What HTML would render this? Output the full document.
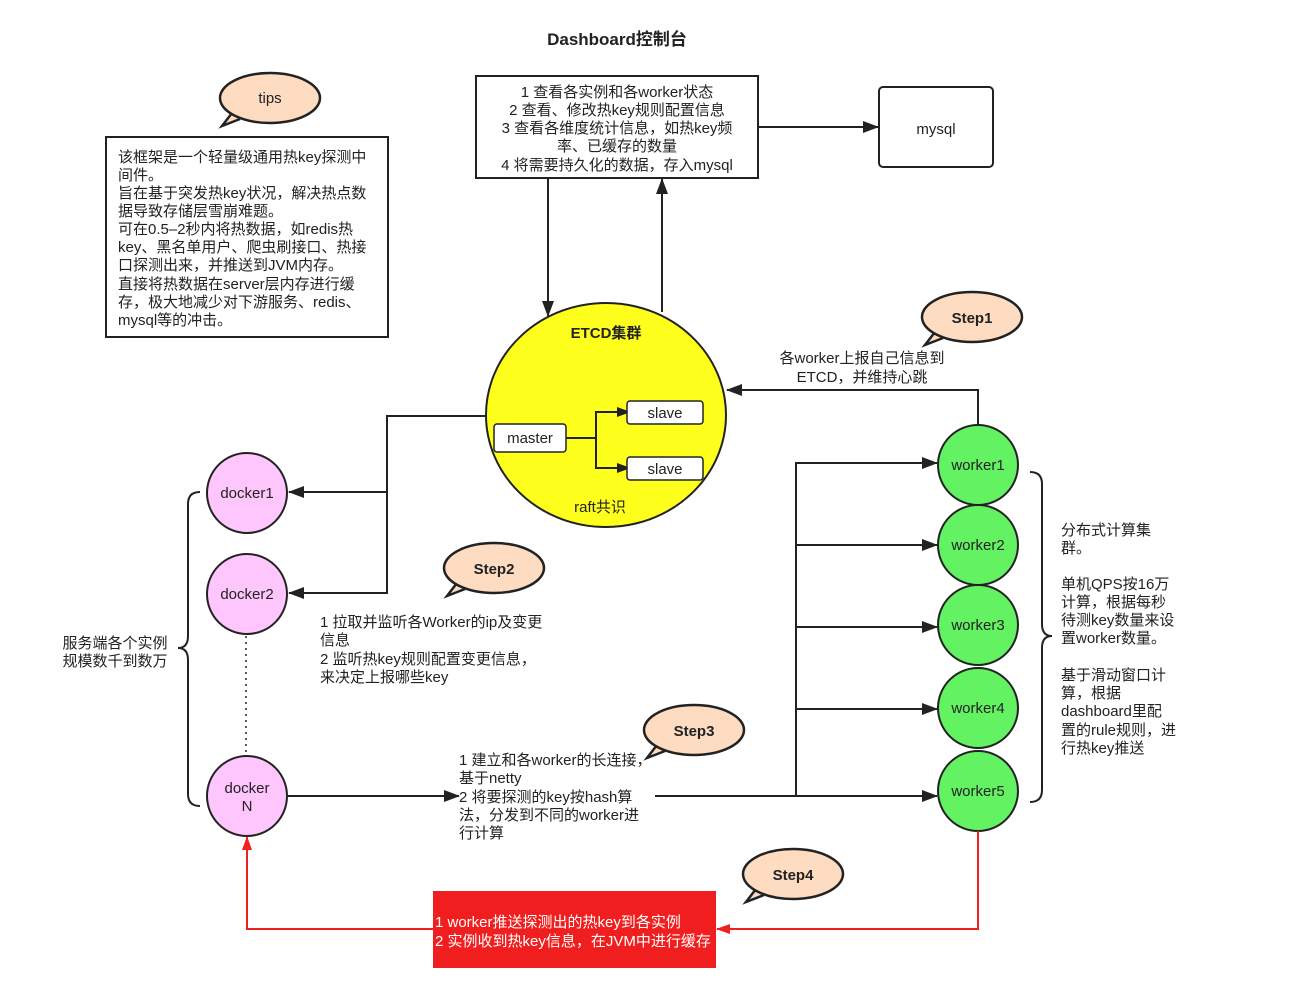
<!DOCTYPE html>
<html><head><meta charset="utf-8"><style>
body{margin:0;background:#fff}
svg{display:block;font-family:"Liberation Sans","Noto Sans CJK SC",sans-serif}
</style></head><body>
<svg width="1295" height="999" viewBox="0 0 1295 999" xmlns="http://www.w3.org/2000/svg">
<defs>
<marker id="a" markerWidth="10" markerHeight="10" refX="9" refY="5" orient="auto" markerUnits="userSpaceOnUse"><path d="M0,0 L14,5 L0,10 z" fill="#222"/></marker>
<marker id="r" markerWidth="14" markerHeight="10" refX="13" refY="5" orient="auto" markerUnits="userSpaceOnUse"><path d="M0,0 L14,5 L0,10 z" fill="#f02020"/></marker>
<marker id="b" markerWidth="16" markerHeight="12" refX="15" refY="6" orient="auto" markerUnits="userSpaceOnUse"><path d="M0,0 L16,6 L0,12 z" fill="#222"/></marker>
</defs>
<g font-size="15" fill="#222">
<text x="617" y="45" text-anchor="middle" font-size="17" font-weight="bold">Dashboard控制台</text>

<g stroke="#222" stroke-width="2.5" fill="#fddcc2">
<path d="M232,113 L222,126 L240,119"/><ellipse cx="270" cy="98" rx="50" ry="25"/>
<path d="M935,332 L925,345 L943,338"/><ellipse cx="972" cy="317" rx="50" ry="25"/>
<path d="M457,583 L447,596 L465,589"/><ellipse cx="494" cy="568" rx="50" ry="25"/>
<path d="M657,745 L647,758 L665,751"/><ellipse cx="694" cy="730" rx="50" ry="25"/>
<path d="M756,889 L746,902 L764,895"/><ellipse cx="793" cy="874" rx="50" ry="25"/>
</g>
<text x="270" y="103" text-anchor="middle">tips</text>
<text x="972" y="323" text-anchor="middle" font-weight="bold">Step1</text>
<text x="494" y="574" text-anchor="middle" font-weight="bold">Step2</text>
<text x="694" y="736" text-anchor="middle" font-weight="bold">Step3</text>
<text x="793" y="880" text-anchor="middle" font-weight="bold">Step4</text>

<rect x="106" y="137" width="282" height="200" fill="#fff" stroke="#222" stroke-width="2"/>
<g>
<text x="118" y="162">该框架是一个轻量级通用热key探测中</text>
<text x="118" y="180">间件。</text>
<text x="118" y="198">旨在基于突发热key状况，解决热点数</text>
<text x="118" y="216">据导致存储层雪崩难题。</text>
<text x="118" y="234">可在0.5–2秒内将热数据，如redis热</text>
<text x="118" y="252">key、黑名单用户、爬虫刷接口、热接</text>
<text x="118" y="270">口探测出来，并推送到JVM内存。</text>
<text x="118" y="289">直接将热数据在server层内存进行缓</text>
<text x="118" y="307">存，极大地减少对下游服务、redis、</text>
<text x="118" y="325">mysql等的冲击。</text>
</g>

<rect x="476" y="76" width="282" height="102" fill="#fff" stroke="#222" stroke-width="2"/>
<g text-anchor="middle">
<text x="617" y="97">1 查看各实例和各worker状态</text>
<text x="617" y="115">2 查看、修改热key规则配置信息</text>
<text x="617" y="133">3 查看各维度统计信息，如热key频</text>
<text x="617" y="151">率、已缓存的数量</text>
<text x="617" y="170">4 将需要持久化的数据，存入mysql</text>
</g>
<rect x="879" y="87" width="114" height="80" rx="4" fill="#fff" stroke="#222" stroke-width="2"/>
<text x="936" y="134" text-anchor="middle">mysql</text>

<g stroke="#222" stroke-width="2" fill="none">
<line x1="758" y1="127" x2="878" y2="127" marker-end="url(#b)"/>
<line x1="548" y1="178" x2="548" y2="316" marker-end="url(#b)"/>
<line x1="662" y1="312" x2="662" y2="179" marker-end="url(#b)"/>
</g>

<ellipse cx="606" cy="415" rx="120" ry="112" fill="#ffff1e" stroke="#222" stroke-width="2"/>
<text x="606" y="338" text-anchor="middle" font-weight="bold">ETCD集群</text>
<text x="600" y="512" text-anchor="middle">raft共识</text>
<rect x="494" y="424" width="72" height="28" rx="3" fill="#fff" stroke="#222" stroke-width="1.5"/>
<text x="530" y="443" text-anchor="middle">master</text>
<rect x="627" y="401" width="76" height="23" rx="3" fill="#fff" stroke="#222" stroke-width="1.5"/>
<text x="665" y="418" text-anchor="middle">slave</text>
<rect x="627" y="457" width="76" height="23" rx="3" fill="#fff" stroke="#222" stroke-width="1.5"/>
<text x="665" y="474" text-anchor="middle">slave</text>
<g stroke="#222" stroke-width="2" fill="none">
<path d="M566,438 H596 V412 H626" marker-end="url(#a)"/>
<path d="M596,438 V468 H626" marker-end="url(#a)"/>
<path d="M978,425 V390 H727" marker-end="url(#b)"/>
<path d="M487,416 H387 V593 H289" marker-end="url(#b)"/>
<path d="M387,492 H289" marker-end="url(#b)"/>
<line x1="288" y1="796" x2="459" y2="796" marker-end="url(#b)"/>
<path d="M655,796 H796 V463 H937" marker-end="url(#b)"/>
<line x1="796" y1="545" x2="937" y2="545" marker-end="url(#b)"/>
<line x1="796" y1="627" x2="937" y2="627" marker-end="url(#b)"/>
<line x1="796" y1="709" x2="937" y2="709" marker-end="url(#b)"/>
<line x1="796" y1="796" x2="937" y2="796" marker-end="url(#b)"/>
<line x1="246" y1="636" x2="246" y2="756" stroke-dasharray="2,4" stroke-width="1.5"/>
<path d="M200,492 Q188,492 188,504 V636 Q188,648 178,648 Q188,648 188,660 V794 Q188,806 200,806"/>
<path d="M1030,472 Q1042,472 1042,484 V624 Q1042,636 1052,636 Q1042,636 1042,648 V790 Q1042,802 1030,802"/>
</g>
<text x="862" y="363" text-anchor="middle">各worker上报自己信息到</text>
<text x="862" y="382" text-anchor="middle">ETCD，并维持心跳</text>

<g stroke="#222" stroke-width="2" fill="#fec6fd">
<circle cx="247" cy="493" r="40"/><circle cx="247" cy="594" r="40"/><circle cx="247" cy="796" r="40"/>
</g>
<g text-anchor="middle" font-size="15">
<text x="247" y="498">docker1</text><text x="247" y="599">docker2</text>
<text x="247" y="793">docker</text><text x="247" y="811">N</text>
</g>
<text x="115" y="648" text-anchor="middle">服务端各个实例</text>
<text x="115" y="666" text-anchor="middle">规模数千到数万</text>

<g stroke="#222" stroke-width="2" fill="#62f262">
<circle cx="978" cy="465" r="40"/><circle cx="978" cy="545" r="40"/><circle cx="978" cy="625" r="40"/><circle cx="978" cy="708" r="40"/><circle cx="978" cy="791" r="40"/>
</g>
<g text-anchor="middle" font-size="15">
<text x="978" y="470">worker1</text><text x="978" y="550">worker2</text><text x="978" y="630">worker3</text><text x="978" y="713">worker4</text><text x="978" y="796">worker5</text>
</g>
<g>
<text x="1061" y="535">分布式计算集</text><text x="1061" y="553">群。</text>
<text x="1061" y="589">单机QPS按16万</text><text x="1061" y="607">计算，根据每秒</text><text x="1061" y="625">待测key数量来设</text><text x="1061" y="643">置worker数量。</text>
<text x="1061" y="680">基于滑动窗口计</text><text x="1061" y="698">算，根据</text><text x="1061" y="716">dashboard里配</text><text x="1061" y="735">置的rule规则，进</text><text x="1061" y="753">行热key推送</text>
</g>

<text x="320" y="627">1  拉取并监听各Worker的ip及变更</text>
<text x="320" y="645">信息</text>
<text x="320" y="664">2 监听热key规则配置变更信息，</text>
<text x="320" y="682">来决定上报哪些key</text>

<text x="459" y="765">1 建立和各worker的长连接，</text>
<text x="459" y="783">基于netty</text>
<text x="459" y="802">2 将要探测的key按hash算</text>
<text x="459" y="820">法，分发到不同的worker进</text>
<text x="459" y="838">行计算</text>

<g stroke="#f02020" stroke-width="2" fill="none">
<path d="M978,831 V929 H717" marker-end="url(#r)"/>
<path d="M433,929 H247 V837" marker-end="url(#r)"/>
</g>
<rect x="433" y="891" width="283" height="77" fill="#f01e1e"/>
<text x="435" y="927" fill="#fff">1 worker推送探测出的热key到各实例</text>
<text x="435" y="946" fill="#fff">2 实例收到热key信息，在JVM中进行缓存</text>
</g>
</svg>
</body></html>
